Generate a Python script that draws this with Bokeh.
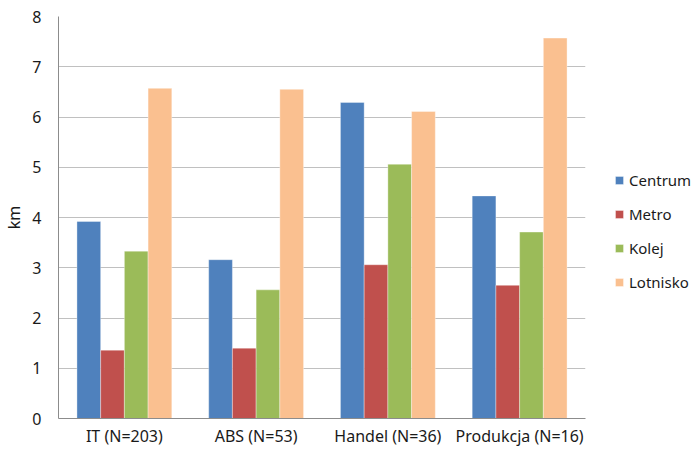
from bokeh.plotting import figure
from bokeh.models import FactorRange, Range1d, Legend, LegendItem, ColumnDataSource
from bokeh.transform import dodge
from bokeh.embed import file_html
from bokeh.resources import INLINE

categories = ["IT (N=203)", "ABS (N=53)", "Handel (N=36)", "Produkcja (N=16)"]
centrum = [3.92, 3.16, 6.29, 4.43]
metro = [1.36, 1.40, 3.06, 2.65]
kolej = [3.33, 2.56, 5.06, 3.71]
lotnisko = [6.57, 6.55, 6.11, 7.57]
series_names = ["Centrum", "Metro", "Kolej", "Lotnisko"]
colors = ["#4F81BD", "#C0504D", "#9BBB59", "#FAC090"]
y_ticks = [0, 1, 2, 3, 4, 5, 6, 7, 8]

FONT = "Noto Sans"

src = ColumnDataSource(dict(cat=categories, Centrum=centrum, Metro=metro,
                            Kolej=kolej, Lotnisko=lotnisko))

p = figure(x_range=FactorRange(*categories, range_padding=0),
           y_range=Range1d(0, 8),
           frame_width=527, frame_height=402,
           output_backend="svg", toolbar_location=None,
           min_border_left=0, min_border_right=0, min_border_top=16, min_border_bottom=0)

offsets = [-0.27, -0.09, 0.09, 0.27]
items = []
for name, col, off in zip(series_names, colors, offsets):
    r = p.vbar(x=dodge("cat", off, range=p.x_range), top=name, width=0.18, source=src,
               fill_color=col, line_color="white", line_alpha=0.35, line_width=1)
    items.append(LegendItem(label=name, renderers=[r]))

legend = Legend(items=items, location=(29, 126), orientation="vertical",
                glyph_width=10, glyph_height=10, label_height=20, spacing=14,
                label_standoff=5, padding=0, margin=0,
                border_line_color=None, background_fill_alpha=0,
                label_text_font=FONT, label_text_font_size="15px",
                label_text_color="#1a1a1a")
p.add_layout(legend, "right")

p.outline_line_color = None
p.xgrid.grid_line_color = None
p.ygrid.grid_line_color = "#C0C0C0"
p.ygrid.grid_line_width = 1

p.yaxis.ticker = y_ticks
p.yaxis.axis_label = "km"
p.yaxis.axis_label_standoff = 4
p.yaxis.axis_label_text_font = FONT
p.yaxis.axis_label_text_font_size = "16px"
p.yaxis.axis_label_text_font_style = "normal"
p.yaxis.axis_label_text_color = "#1a1a1a"
p.yaxis.major_label_text_font = FONT
p.yaxis.major_label_text_font_size = "16px"
p.yaxis.major_label_text_color = "#1a1a1a"
p.yaxis.major_label_standoff = 11
p.yaxis.major_tick_line_color = None
p.yaxis.minor_tick_line_color = None
p.yaxis.axis_line_color = "#8C8C8C"

p.xaxis.major_label_text_font = FONT
p.xaxis.major_label_text_font_size = "16px"
p.xaxis.major_label_text_color = "#1a1a1a"
p.xaxis.major_label_standoff = 0
p.xaxis.major_tick_line_color = None
p.xaxis.axis_line_color = "#8C8C8C"

open("out.html", "w").write(file_html(p, INLINE))
